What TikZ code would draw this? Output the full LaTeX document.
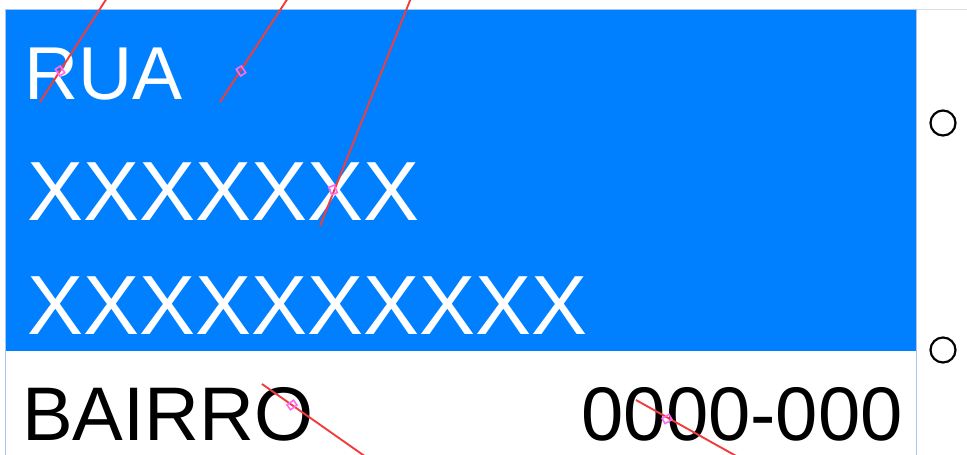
\documentclass[tikz,border=0pt]{standalone}
\usepackage{fontspec}
\setmainfont{Liberation Sans}
\definecolor{plateblue}{HTML}{0080FF}
\definecolor{framegray}{HTML}{A8C4F0}
\definecolor{topgray}{HTML}{D8DCE4}
\definecolor{guidered}{HTML}{F03C3C}
\definecolor{markpink}{HTML}{FF6AF5}
\tikzset{
  frameline/.style={draw=framegray, line width=1pt},
  bigwhite/.style={text=white, inner sep=0pt, anchor=base west, font=\fontsize{84}{90}\selectfont},
  ruatext/.style={text=white, inner sep=0pt, anchor=base west, font=\fontsize{75}{80}\selectfont},
  blacktext/.style={text=black, inner sep=0pt, font=\fontsize{76}{84}\selectfont},
  hole/.style={circle, draw=black, line width=2.2pt, minimum size=25pt, inner sep=0pt},
  guide/.style={draw=guidered, line width=1.9pt},
  marker/.style={draw=markpink, line width=1.6pt, rectangle, minimum width=8pt, minimum height=6pt, inner sep=0pt}
}
\begin{document}
\begin{tikzpicture}[x=1pt, y=-1pt]
\useasboundingbox (0,0) rectangle (967,455);
% frame
\fill[plateblue] (5,9) rectangle (916,351);
\draw[draw=topgray, line width=1pt] (916,9) -- (967,9);
\draw[frameline] (5,455) -- (5,9) -- (916,9);
\draw[frameline] (916,9) -- (916,455);
% texts
\node[ruatext] (rua) at (24,99) {RUA};
\node[bigwhite] (l2) at (27,220) {XXXXXXX};
\node[bigwhite] (l3) at (27,334) {XXXXXXXXXX};
\node[blacktext, anchor=base west] (bairro) at (22,440) {BAIRRO};
\node[blacktext, anchor=base east] (cep) at (903,440) {0000-000};
% holes
\node[hole] (h1) at (943,123) {};
\node[hole] (h2) at (943,350) {};
% guide lines
\coordinate (a1) at (40,102); \coordinate (a2) at (107,-2);
\coordinate (b1) at (220,102); \coordinate (b2) at (288,-2);
\coordinate (c1) at (320,226); \coordinate (c2) at (411,-2);
\coordinate (d1) at (262,384); \coordinate (d2) at (366,457);
\coordinate (e1) at (636,400); \coordinate (e2) at (738,457);
\draw[guide] (a1) -- (a2);
\draw[guide] (b1) -- (b2);
\draw[guide] (c1) -- (c2);
\draw[guide] (d1) -- (d2);
\draw[guide] (e1) -- (e2);
% markers
\node[marker, rotate=-57] (m1) at (60,71) {};
\node[marker, rotate=-57] (m2) at (241,71) {};
\node[marker, rotate=-68] (m3) at (333,190) {};
\node[marker, rotate=35] (m4) at (292,405) {};
\node[marker, rotate=30] (m5) at (667,419) {};
\end{tikzpicture}
\end{document}
